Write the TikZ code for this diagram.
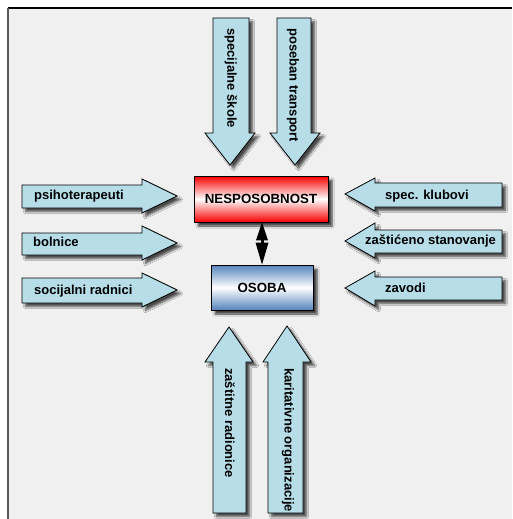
\documentclass[tikz,border=0pt]{standalone}
\usepackage{fontspec}
\setmainfont{Liberation Sans}
\usetikzlibrary{shadows.blur,calc}
\definecolor{arrowfill}{HTML}{B7DEE8}
\definecolor{framefill}{HTML}{F0F0F0}
\definecolor{redtop}{HTML}{F80000}
\definecolor{bluebox}{HTML}{5583BE}
\tikzset{
  blockarrow/.style={draw=black, line width=0.8pt, fill=arrowfill, line join=miter,
    blur shadow={shadow xshift=3.5pt, shadow yshift=-3.5pt, shadow blur steps=6, shadow opacity=70}},
  lbl/.style={inner sep=0pt, font=\fontsize{13}{15}\selectfont\bfseries},
  vlbl/.style={lbl, rotate=-90, anchor=west},
  hlbl/.style={lbl, anchor=west},
  mainbox/.style={draw=black, line width=0.8pt, inner sep=0pt,
    font=\fontsize{13.3}{15}\selectfont\bfseries,
    blur shadow={shadow xshift=4pt, shadow yshift=-4pt, shadow blur steps=6, shadow opacity=75}},
  dblline/.style={line width=3pt, black},
  dblhead/.style={fill=black}
}
\begin{document}
\begin{tikzpicture}[x=1pt,y=-1pt]
\useasboundingbox (0,0) rectangle (512,519);
% frame
\fill[framefill] (8,8) rectangle (512,519);
\draw[black, line width=1.5pt] (8,8) -- (512,8);
\draw[black!65, line width=2pt] (8,8) -- (8,519);

% top arrows (pointing down)
\draw[blockarrow] (213,18) -- (249,18) -- (249,133) -- (255,133) -- (230,165) -- (205,133) -- (213,133) -- cycle;
\node[vlbl] (t1) at (231,28) {specijalne škole};
\draw[blockarrow] (277,18) -- (311,18) -- (311,133) -- (320,133) -- (295,165) -- (270,133) -- (277,133) -- cycle;
\node[vlbl] (t2) at (293,28) {poseban transport};

% bottom arrows (pointing up)
\draw[blockarrow] (213,513) -- (246,513) -- (246,362) -- (253,362) -- (229,327) -- (205,362) -- (213,362) -- cycle;
\node[vlbl] (b1) at (230,368) {zaštitne radionice};
\draw[blockarrow] (268,513) -- (303,513) -- (303,362) -- (311,362) -- (287,326) -- (263,362) -- (268,362) -- cycle;
\node[vlbl] (b2) at (288,368) {karitativne organizacije};

% left arrows (pointing right)
\draw[blockarrow] (22,185) -- (142,185) -- (142,179) -- (177,196) -- (142,213) -- (142,208) -- (22,208) -- cycle;
\node[hlbl] (l1) at (34,196) {psihoterapeuti};
\draw[blockarrow] (22,233) -- (142,233) -- (142,226) -- (177,243) -- (142,260) -- (142,255) -- (22,255) -- cycle;
\node[hlbl] (l2) at (33,242) {bolnice};
\draw[blockarrow] (22,278) -- (142,278) -- (142,273) -- (177,290) -- (142,307) -- (142,303) -- (22,303) -- cycle;
\node[hlbl] (l3) at (34,291) {socijalni radnici};

% right arrows (pointing left)
\draw[blockarrow] (502,183) -- (375,183) -- (375,178) -- (345,194) -- (375,211) -- (375,207) -- (502,207) -- cycle;
\node[hlbl] (r1) at (385,196) {spec. klubovi};
\draw[blockarrow] (502,230) -- (375,230) -- (375,223) -- (345,241) -- (375,258) -- (375,253) -- (502,253) -- cycle;
\node[hlbl] (r2) at (365,241) {zaštićeno stanovanje};
\draw[blockarrow] (502,277) -- (375,277) -- (375,271) -- (345,288) -- (375,306) -- (375,300) -- (502,300) -- cycle;
\node[hlbl] (r3) at (385,288) {zavodi};

% central boxes
\node[mainbox, minimum width=134pt, minimum height=46pt,
  top color=redtop, bottom color=redtop, middle color=white] (nes) at (261,199) {NESPOSOBNOST};
\node[mainbox, minimum width=102pt, minimum height=45pt,
  top color=bluebox, bottom color=bluebox, middle color=white] (oso) at (262,287.5) {OSOBA};

% double arrow between the boxes
\coordinate (da1) at ($(nes.south)+(1,0)$);
\coordinate (da2) at (da1 |- oso.north);
\draw[dblline] ($(da1)+(0,16)$) -- ($(da2)+(0,-20)$);
\fill[dblhead] (da1) -- ++(6,18) -- ++(-12,0) -- cycle;
\fill[dblhead] (da2) -- ++(6.5,-22) -- ++(-13,0) -- cycle;
\end{tikzpicture}
\end{document}
